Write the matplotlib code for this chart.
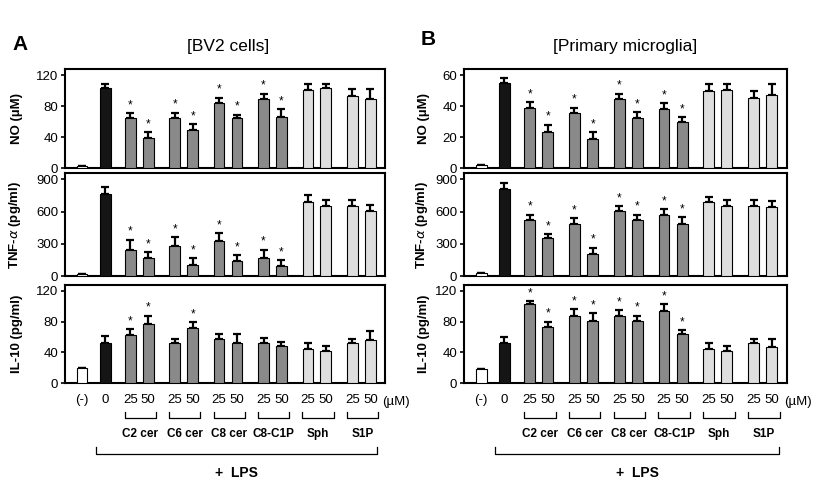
import matplotlib
matplotlib.use("Agg")
import matplotlib.pyplot as plt
import numpy as np

plt.rcParams['font.family'] = ['Liberation Sans', 'DejaVu Sans']

# bar order: (-), LPS 0, then 25/50 uM for each compound
groups = ['C2 cer', 'C6 cer', 'C8 cer', 'C8-C1P', 'Sph', 'S1P']
dose_labels = ['(-)', '0'] + ['25', '50'] * 6
bar_colors = ['white', '#151515'] + ['#8a8a8a'] * 8 + ['#dedede'] * 4

# panel A - BV2 cells
no_a = [3, 103, 64, 38.7, 64, 49, 84, 64, 89, 66, 101, 103, 93.5, 89]
no_a_sem = [0, 6, 7, 7.5, 7.5, 7.5, 7, 5, 7, 10, 8, 5.5, 8.5, 13]
tnf_a = [20, 760, 245, 170, 280, 100, 325, 140, 170, 95, 690, 650, 655, 610]
tnf_a_sem = [0, 70, 95, 50, 80, 65, 75, 55, 75, 55, 65, 60, 55, 50]
il10_a = [19, 52, 62, 77, 52, 72, 57, 52, 52, 48, 44, 42, 52, 56]
il10_a_sem = [0, 9, 8, 11, 6, 7, 7, 12, 7, 5, 8, 6, 5, 12]

# panel B - primary microglia
no_b = [2, 55, 38.5, 23.5, 35.5, 19, 44.5, 32, 38, 29.5, 49.5, 50.5, 45.5, 47]
no_b_sem = [0, 3, 4, 4.5, 3.5, 4, 3.5, 4, 4, 3.5, 4.5, 3.5, 4.5, 7.5]
tnf_b = [25, 810, 520, 350, 480, 210, 610, 520, 570, 480, 690, 650, 650, 640]
tnf_b_sem = [0, 60, 50, 40, 60, 55, 40, 50, 55, 65, 50, 60, 60, 60]
il10_b = [18, 52, 103, 73, 88, 81, 88, 81, 94, 64, 44, 42, 52, 47]
il10_b_sem = [0, 8, 4, 7, 8, 10, 7, 7, 9, 5, 8, 6, 5, 11]

# significance marks
sig_main = [0, 0] + [1] * 8 + [0] * 4
sig_il10_a = [0, 0, 1, 1, 0, 1] + [0] * 8
sig_il10_b = sig_main

# x positions
centers = [2.48 + 1.93 * g for g in range(6)]
xpos = [0, 1]
for c in centers:
    xpos += [c - 0.39, c + 0.39]
xpos = np.array(xpos)


def draw_bars(ax, vals, sem, sig, ytop, yticks, ylabel, lab_x):
    vals = np.array(vals)
    sem = np.array(sem)
    ax.bar(xpos, vals, width=0.47, color=bar_colors, edgecolor='black',
           linewidth=0.8, zorder=3,
           yerr=[np.zeros_like(sem), sem],
           error_kw=dict(ecolor='black', elinewidth=1.6, capsize=3, capthick=1.6, zorder=2))
    for x, v, s, f in zip(xpos, vals, sem, sig):
        if f:
            ax.text(x, v + s + ytop * 0.02, '*', ha='center', va='bottom', fontsize=8.5)
    ax.set_xlim(-0.74, 13.17)
    ax.set_ylim(0, ytop * 1.065)
    ax.set_yticks(yticks)
    ax.tick_params(axis='y', labelsize=9.5, length=3, width=1.2, pad=2)
    ax.set_ylabel(ylabel, fontsize=9.5, fontweight='bold')
    ax.yaxis.set_label_coords(lab_x, 0.5)
    for sp in ax.spines.values():
        sp.set_linewidth(1.5)
    ax.set_xticks([])


def draw_xlabels(ax):
    ax.set_xticks(xpos)
    ax.set_xticklabels(dose_labels, fontsize=9.5)
    ax.tick_params(axis='x', length=0, pad=8)
    tr = ax.get_xaxis_transform()
    ax.text(13.05, -0.19, '(\u00b5M)', transform=tr, fontsize=9.5, ha='left', va='center')
    for c, name in zip(centers, groups):
        x0, x1 = c - 0.63, c + 0.73
        ax.plot([x0, x0, x1, x1], [-0.30, -0.36, -0.36, -0.30], color='black',
                lw=0.9, transform=tr, clip_on=False)
        ax.text((x0 + x1) / 2, -0.52, name, transform=tr, fontsize=8.5,
                fontweight='bold', ha='center', va='center')
    ax.plot([0.61, 0.61, 12.83, 12.83], [-0.65, -0.72, -0.72, -0.65], color='black',
            lw=0.9, transform=tr, clip_on=False)
    ax.text(6.72, -0.92, '+  LPS', transform=tr, fontsize=10, fontweight='bold',
            ha='center', va='center')


fig = plt.figure(figsize=(8.17, 4.93), dpi=100)

rows = [(0.659, 0.201), (0.440, 0.209), (0.223, 0.199)]
cols = [(0.0796, 0.392, -0.13), (0.568, 0.395, -0.105)]

data_a = [(no_a, no_a_sem, sig_main, 120, [0, 40, 80, 120], 'NO (\u00b5M)'),
          (tnf_a, tnf_a_sem, sig_main, 900, [0, 300, 600, 900], 'TNF-$\\alpha$ (pg/ml)'),
          (il10_a, il10_a_sem, sig_il10_a, 120, [0, 40, 80, 120], 'IL-10 (pg/ml)')]
data_b = [(no_b, no_b_sem, sig_main, 60, [0, 20, 40, 60], 'NO (\u00b5M)'),
          (tnf_b, tnf_b_sem, sig_main, 900, [0, 300, 600, 900], 'TNF-$\\alpha$ (pg/ml)'),
          (il10_b, il10_b_sem, sig_il10_b, 120, [0, 40, 80, 120], 'IL-10 (pg/ml)')]

for (left, width, lab_x), panel in zip(cols, [data_a, data_b]):
    for i, ((bottom, height), d) in enumerate(zip(rows, panel)):
        ax = fig.add_axes([left, bottom, width, height])
        draw_bars(ax, *d, lab_x)
        if i == 2:
            draw_xlabels(ax)

fig.text(0.279, 0.905, '[BV2 cells]', fontsize=12.5, ha='center', va='center')
fig.text(0.765, 0.905, '[Primary microglia]', fontsize=12.5, ha='center', va='center')
fig.text(0.015, 0.91, 'A', fontsize=15, fontweight='bold', ha='left', va='center')
fig.text(0.515, 0.92, 'B', fontsize=15, fontweight='bold', ha='left', va='center')

fig.savefig('out.png', dpi=100)
